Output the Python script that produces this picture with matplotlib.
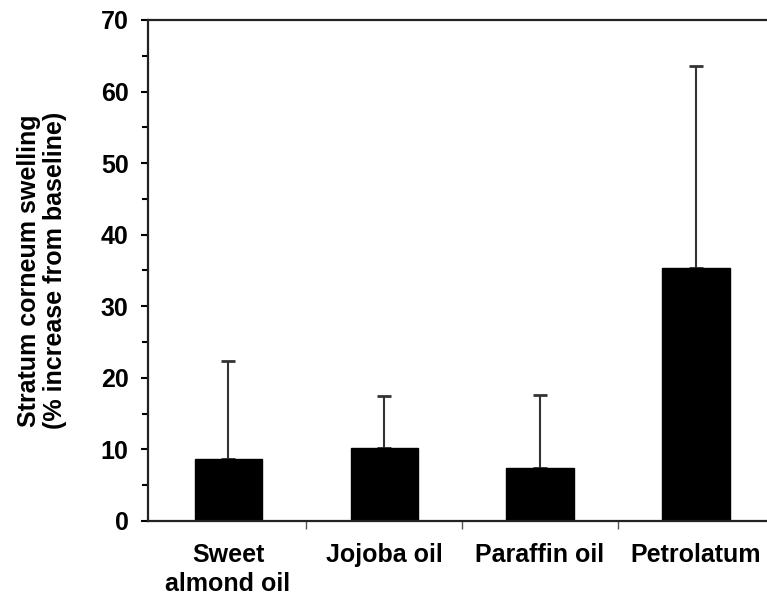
import numpy as np
import matplotlib.pyplot as plt

# 数据：各油类处理后的角质层肿胀（相对基线增加 %）
categories = ['Sweet\nalmond oil', 'Jojoba oil', 'Paraffin oil', 'Petrolatum']
means = [8.7, 10.2, 7.4, 35.4]
sd_upper = [13.6, 7.3, 10.2, 28.2]

plt.rcParams['font.family'] = ['Liberation Sans', 'DejaVu Sans']
plt.rcParams['font.weight'] = 'bold'

fig = plt.figure(figsize=(7.67, 5.95), dpi=100)
ax = fig.add_axes([0.193, 0.1244, 0.807, 0.842])

x = np.arange(len(categories))
ax.bar(x, means, width=0.43, color='black', edgecolor='black', zorder=2)
ax.errorbar(x, means, yerr=[np.zeros(len(means)), sd_upper], fmt='none',
            ecolor='#333333', elinewidth=1.5, capsize=5, capthick=2, zorder=1)

ax.set_xlim(-0.513, 3.455)
ax.set_ylim(0, 70)
ax.set_yticks(np.arange(0, 71, 10))
ax.set_yticks(np.arange(5, 70, 10), minor=True)

# 类别标签放在柱中心，刻度放在类别之间
ax.set_xticks(x)
ax.set_xticklabels(categories, fontsize=18, fontweight='bold', linespacing=1.25)
ax.set_xticks([0.5, 1.5, 2.5], minor=True)
ax.tick_params(axis='x', which='major', length=0, pad=16)
ax.tick_params(axis='x', which='minor', length=6, width=1, color='#555555', direction='out')
ax.tick_params(axis='y', which='major', length=5, width=1.5, direction='out',
               labelsize=18, pad=9)
ax.tick_params(axis='y', which='minor', length=4, width=1.5, direction='out')
for lab in ax.get_yticklabels():
    lab.set_fontweight('bold')

ax.spines['right'].set_visible(False)
for s in ['left', 'bottom', 'top']:
    ax.spines[s].set_linewidth(1.6)
    ax.spines[s].set_color('#222222')

ax.set_ylabel('Stratum corneum swelling\n(% increase from baseline)',
              fontsize=18, fontweight='bold', linespacing=1.1, labelpad=24)

fig.savefig('out.png', dpi=100)
